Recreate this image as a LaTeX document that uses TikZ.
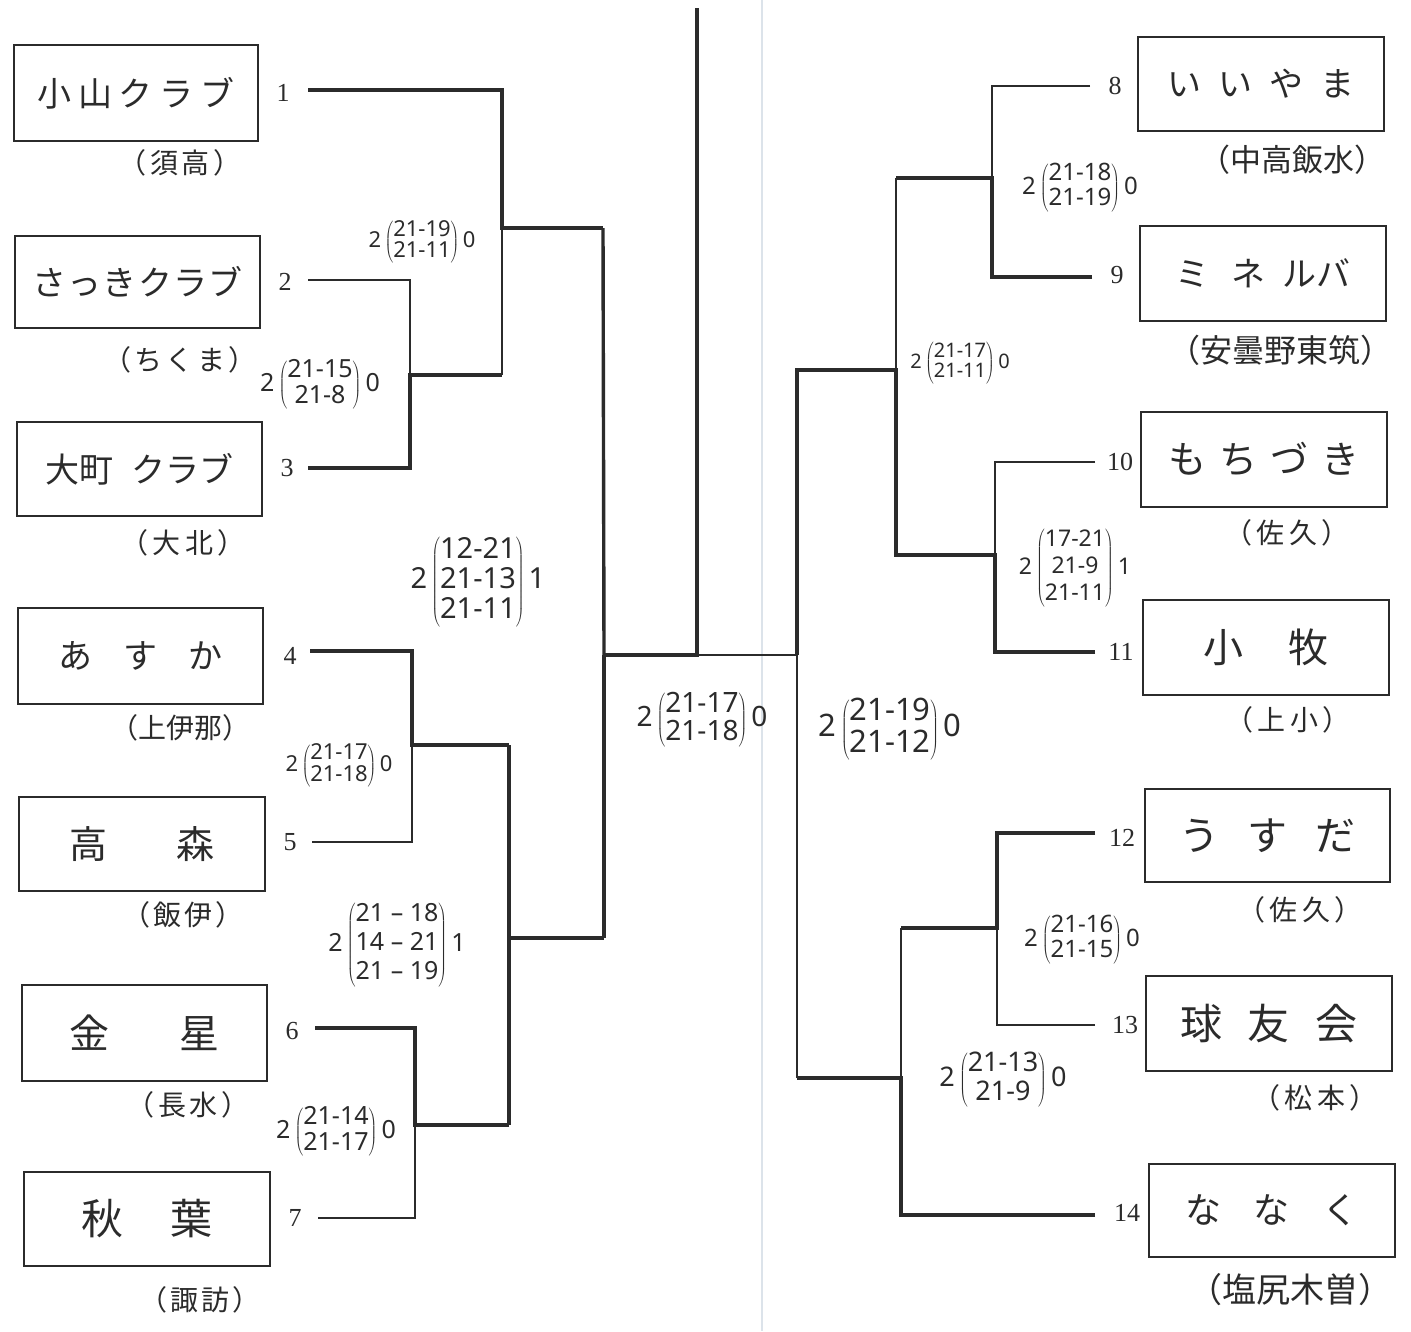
\documentclass[tikz,border=0pt]{standalone}
\usepackage{fontspec}
\newfontfamily\jpf{Noto Sans CJK JP}
\newfontfamily\numf{Liberation Serif}
\newfontfamily\scf{Noto Sans}
\newcommand\scorelbl[3]{$\mbox{#1}\left(\mbox{\begin{tabular}{@{}c@{}}#2\end{tabular}}\right)\mbox{#3}$}
\newcommand\lsp[2]{{\addfontfeature{LetterSpace=#1}#2}}
\newcommand\dn[1]{\raisebox{-4pt}{#1}}
\definecolor{ink}{HTML}{2B2B2B}
\definecolor{fold}{HTML}{DCE3EA}
\begin{document}
\begin{tikzpicture}[x=1pt,y=-1pt,
  teambox/.style={draw=ink, line width=2.6pt, inner sep=0pt, text=ink,
     font=\jpf\fontsize{34}{36}\selectfont},
  rgn/.style={text=ink, inner sep=0pt, font=\jpf\fontsize{28}{30}\selectfont},
  num/.style={text=ink, inner sep=0pt, font=\numf\fontsize{26}{28}\selectfont},
  score/.style={text=ink, inner sep=0pt},
  win/.style={draw=ink, line width=4.6pt, line cap=square},
  mid/.style={draw=ink, line width=3.4pt, line cap=square},
  lose/.style={draw=ink, line width=2.6pt, line cap=square}]
\useasboundingbox (0,0) rectangle (1411,1331);
\fill[white] (0,0) rectangle (1411,1331);
\draw[fold, line width=1.5pt] (762,0) -- (762,1331);

% ---------- left team boxes ----------
\node[teambox, minimum width=244, minimum height=96] (k1) at (136,93) {\dn{\lsp{20}{小山クラブ}}};
\node[teambox, minimum width=245, minimum height=92] (k2) at (137.5,282) {\dn{\lsp{4}{さっきクラブ}}};
\node[teambox, minimum width=245, minimum height=94] (k3) at (139.5,469) {\dn{大町\hspace{18pt}クラブ}};
\node[teambox, minimum width=245, minimum height=96] (k4) at (140.5,656) {\dn{\lsp{90}{あすか}}};
\node[teambox, minimum width=246, minimum height=94, font=\jpf\fontsize{38}{40}\selectfont] (k5) at (142,844) {\dn{高\hspace{70pt}森}};
\node[teambox, minimum width=245, minimum height=96, font=\jpf\fontsize{40}{42}\selectfont] (k6) at (144.5,1033) {\dn{金\hspace{70pt}星}};
\node[teambox, minimum width=246, minimum height=94, font=\jpf\fontsize{42}{44}\selectfont] (k7) at (147,1219) {\dn{秋\hspace{48pt}葉}};

\node[rgn] (r1) at (180,163) {\lsp{12}{（須高）}};
\node[rgn] (r2) at (180,360) {\lsp{12}{（ちくま）}};
\node[rgn] (r3) at (183,543) {\lsp{16}{（大北）}};
\node[rgn] (r4) at (180,728) {（上伊那）};
\node[rgn] (r5) at (183,915) {\lsp{10}{（飯伊）}};
\node[rgn] (r6) at (188,1105) {\lsp{12}{（長水）}};
\node[rgn] (r7) at (200,1300) {\lsp{10}{（諏訪）}};

\node[num] (n1) at (283,93) {1};
\node[num] (n2) at (285,282) {2};
\node[num] (n3) at (287,468) {3};
\node[num] (n4) at (290,656) {4};
\node[num] (n5) at (290,842) {5};
\node[num] (n6) at (292,1031) {6};
\node[num] (n7) at (295,1218) {7};

% ---------- right team boxes ----------
\node[teambox, minimum width=246, minimum height=94] (k8) at (1261,84) {\dn{\lsp{50}{いいやま}}};
\node[teambox, minimum width=246, minimum height=95] (k9) at (1263,273.5) {\dn{ミ\hspace{22pt}ネ\hspace{18pt}ルバ}};
\node[teambox, minimum width=246, minimum height=95, font=\jpf\fontsize{38}{40}\selectfont] (k10) at (1264,459.5) {\dn{\lsp{35}{もちづき}}};
\node[teambox, minimum width=246, minimum height=95, font=\jpf\fontsize{40}{42}\selectfont] (k11) at (1266,647.5) {\dn{小\hspace{45pt}牧}};
\node[teambox, minimum width=245, minimum height=93, font=\jpf\fontsize{40}{42}\selectfont] (k12) at (1267.5,835.5) {\dn{\lsp{70}{うすだ}}};
\node[teambox, minimum width=246, minimum height=95, font=\jpf\fontsize{42}{44}\selectfont] (k13) at (1269,1023.5) {\dn{\lsp{60}{球友会}}};
\node[teambox, minimum width=246, minimum height=93, font=\jpf\fontsize{36}{38}\selectfont] (k14) at (1272,1210.5) {\dn{\lsp{90}{ななく}}};

\node[rgn, font=\jpf\fontsize{31}{33}\selectfont] (r8) at (1292,160) {（中高飯水）};
\node[rgn, font=\jpf\fontsize{32}{34}\selectfont] (r9) at (1280,350) {（安曇野東筑）};
\node[rgn] (r10) at (1287,533) {\lsp{16}{（佐久）}};
\node[rgn] (r11) at (1288,720) {\lsp{16}{（上小）}};
\node[rgn] (r12) at (1300,910) {\lsp{16}{（佐久）}};
\node[rgn] (r13) at (1315,1098) {\lsp{16}{（松本）}};
\node[rgn, font=\jpf\fontsize{34}{36}\selectfont] (r14) at (1290,1290) {（塩尻木曽）};

\node[num] (n8) at (1115,86) {8};
\node[num] (n9) at (1117,275) {9};
\node[num] (n10) at (1120,462) {10};
\node[num] (n11) at (1121,652) {11};
\node[num] (n12) at (1122,838) {12};
\node[num] (n13) at (1125,1025) {13};
\node[num] (n14) at (1127,1213) {14};

% ---------- bracket coordinates ----------
\coordinate (a1) at (308,90);   \coordinate (a1e) at (502,90);
\coordinate (a2) at (308,280);  \coordinate (a2e) at (410,280);
\coordinate (a3) at (308,468);  \coordinate (a3e) at (410,468);
\coordinate (m23) at (410,375); \coordinate (m23e) at (502,375);
\coordinate (m123) at (502,228); \coordinate (m123e) at (603,228);
\coordinate (a4) at (310,651);  \coordinate (a4e) at (412,651);
\coordinate (a5) at (312,842);  \coordinate (a5e) at (412,842);
\coordinate (m45) at (412,745); \coordinate (m45e) at (509,745);
\coordinate (a6) at (315,1028); \coordinate (a6e) at (415,1028);
\coordinate (a7) at (318,1218); \coordinate (a7e) at (415,1218);
\coordinate (m67) at (415,1125); \coordinate (m67e) at (509,1125);
\coordinate (m47) at (509,938); \coordinate (m47e) at (604,938);
\coordinate (sl) at (604,655);  \coordinate (fin) at (697,655);
\coordinate (top) at (697,8);   \coordinate (sr) at (797,655);
\coordinate (b8) at (1090,86);  \coordinate (b8e) at (992,86);
\coordinate (b9) at (1092,277); \coordinate (b9e) at (992,277);
\coordinate (m89) at (992,178); \coordinate (m89e) at (896,178);
\coordinate (b10) at (1095,462); \coordinate (b10e) at (995,462);
\coordinate (b11) at (1095,652); \coordinate (b11e) at (995,652);
\coordinate (m1011) at (995,555); \coordinate (m1011e) at (896,555);
\coordinate (m811) at (896,370); \coordinate (m811e) at (797,370);
\coordinate (b12) at (1095,833); \coordinate (b12e) at (997,833);
\coordinate (b13) at (1095,1025); \coordinate (b13e) at (997,1025);
\coordinate (m1213) at (997,928); \coordinate (m1213e) at (901,928);
\coordinate (b14) at (1095,1215); \coordinate (b14e) at (901,1215);
\coordinate (m1214) at (901,1078); \coordinate (m1214e) at (797,1078);

% ---------- left bracket ----------
\draw[lose] (a2) -- (a2e) -- (m23);
\draw[win] (a3) -- (a3e) -- (m23) -- (m23e);
\draw[lose] (m23e) -- (m123);
\draw[win] (a1) -- (a1e) -- (m123) -- (m123e);
\draw[mid] (m123e) -- (sl);
\draw[lose] (a5) -- (a5e) -- (m45);
\draw[win] (a4) -- (a4e) -- (m45) -- (m45e);
\draw[lose] (a7) -- (a7e) -- (m67);
\draw[win] (a6) -- (a6e) -- (m67) -- (m67e);
\draw[mid] (m45e) -- (m67e);
\draw[win] (m47) -- (m47e);
\draw[mid] (m47e) -- (sl);
\draw[win] (sl) -- (fin) -- (top);
\draw[lose] (fin) -- (sr);

% ---------- right bracket ----------
\draw[lose] (b8) -- (b8e) -- (m89);
\draw[win] (b9) -- (b9e) -- (m89) -- (m89e);
\draw[lose] (m89e) -- (m811);
\draw[lose] (b10) -- (b10e) -- (m1011);
\draw[win] (b11) -- (b11e) -- (m1011) -- (m1011e) -- (m811) -- (m811e) -- (sr);
\draw[lose] (sr) -- (m1214e);
\draw[lose] (b13) -- (b13e) -- (m1213);
\draw[win] (b12) -- (b12e) -- (m1213) -- (m1213e);
\draw[lose] (m1213e) -- (m1214);
\draw[win] (b14) -- (b14e) -- (m1214) -- (m1214e);

% ---------- scores ----------
\node[score, font=\scf\fontsize{22}{20}\selectfont] (s1) at (422,242) {\scorelbl{2}{21-19\\21-11}{0}};
\node[score, font=\scf\fontsize{25}{24}\selectfont] (s2) at (320,385) {\scorelbl{2}{21-15\\21-8}{0}};
\node[score, font=\scf\fontsize{29}{30}\selectfont] (s3) at (478,582) {\scorelbl{2}{12-21\\21-13\\21-11}{1}};
\node[score, font=\scf\fontsize{22}{21}\selectfont] (s4) at (339,766) {\scorelbl{2}{21-17\\21-18}{0}};
\node[score, font=\scf\fontsize{25}{29}\selectfont] (s5) at (397,945) {\scorelbl{2}{21 – 18\\14 – 21\\21 – 19}{1}};
\node[score, font=\scf\fontsize{25}{26}\selectfont] (s6) at (336,1132) {\scorelbl{2}{21-14\\21-17}{0}};
\node[score, font=\scf\fontsize{28}{26}\selectfont] (s7) at (702,720) {\scorelbl{2}{21-17\\21-18}{0}};
\node[score, font=\scf\fontsize{31}{32}\selectfont] (s8) at (890,730) {\scorelbl{2}{21-19\\21-12}{0}};
\node[score, font=\scf\fontsize{24}{24}\selectfont] (s9) at (1080,188) {\scorelbl{2}{21-18\\21-19}{0}};
\node[score, font=\scf\fontsize{20}{20}\selectfont] (s10) at (960,363) {\scorelbl{2}{21-17\\21-11}{0}};
\node[score, font=\scf\fontsize{23}{27}\selectfont] (s11) at (1075,568) {\scorelbl{2}{17-21\\21-9\\21-11}{1}};
\node[score, font=\scf\fontsize{24}{24}\selectfont] (s12) at (1082,940) {\scorelbl{2}{21-16\\21-15}{0}};
\node[score, font=\scf\fontsize{27}{29}\selectfont] (s13) at (1003,1080) {\scorelbl{2}{21-13\\21-9}{0}};
\end{tikzpicture}
\end{document}
